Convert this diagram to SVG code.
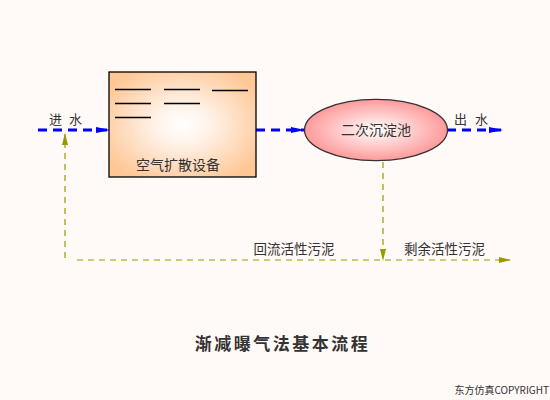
<svg xmlns="http://www.w3.org/2000/svg" width="550" height="400" viewBox="0 0 550 400">
<defs>
<radialGradient id="gBox" cx="0.5" cy="0.5" r="0.6">
<stop offset="0" stop-color="#FFFFFF"/>
<stop offset="0.3" stop-color="#FFF3EA"/>
<stop offset="1" stop-color="#FFC796"/>
</radialGradient>
<radialGradient id="gEll" cx="0.5" cy="0.5" r="0.5">
<stop offset="0" stop-color="#FFFFFF"/>
<stop offset="1" stop-color="#FF9A9A"/>
</radialGradient>
<marker id="aBlue" markerWidth="14" markerHeight="8" refX="13" refY="4" orient="auto" markerUnits="userSpaceOnUse">
<path d="M0,1 L14,4 L0,7 Z" fill="#0000FF"/>
</marker>
<marker id="aOlive" markerWidth="12" markerHeight="8" refX="11" refY="4" orient="auto" markerUnits="userSpaceOnUse">
<path d="M0,1 L12,4 L0,7 Z" fill="#999900"/>
</marker>
</defs>
<style>
.t{font-family:"Noto Sans CJK SC","Liberation Sans",sans-serif;fill:#333;}
.blue{stroke:#0000FF;stroke-width:3;stroke-dasharray:9,6;fill:none;}
.olive{stroke:#999900;stroke-width:1.2;stroke-dasharray:6,5;fill:none;}
.ln{stroke:#000;stroke-width:1.3;}
</style>
<rect width="550" height="400" fill="#FFF9F7"/>
<g id="connectors">
<line class="blue" x1="38" y1="130" x2="109" y2="130" marker-end="url(#aBlue)"/>
<line class="blue" x1="256" y1="130" x2="304" y2="130" marker-end="url(#aBlue)"/>
<line class="blue" x1="447" y1="130" x2="502" y2="130" marker-end="url(#aBlue)"/>
<line class="olive" x1="383" y1="162" x2="383" y2="260" marker-end="url(#aOlive)"/>
<line class="olive" x1="77" y1="260" x2="510" y2="260" marker-end="url(#aOlive)"/>
<line class="olive" x1="65" y1="258" x2="65" y2="134" marker-end="url(#aOlive)"/>
</g>
<g id="aeration">
<rect x="109" y="72" width="147" height="105" fill="url(#gBox)" stroke="#000" stroke-width="1.3"/>
<line class="ln" x1="115" y1="89.5" x2="151" y2="89.5"/>
<line class="ln" x1="164" y1="89.5" x2="200" y2="89.5"/>
<line class="ln" x1="212" y1="90.5" x2="248" y2="90.5"/>
<line class="ln" x1="115" y1="103.5" x2="151" y2="103.5"/>
<line class="ln" x1="164" y1="103.5" x2="200" y2="103.5"/>
<line class="ln" x1="115" y1="117.5" x2="151" y2="117.5"/>
<text class="t" x="178" y="170" font-size="14" text-anchor="middle">空气扩散设备</text>
</g>
<g id="clarifier">
<ellipse cx="376" cy="130" rx="71.5" ry="30.7" fill="url(#gEll)" stroke="#333" stroke-width="1.3"/>
<text class="t" x="376" y="135" font-size="14" text-anchor="middle">二次沉淀池</text>
</g>
<g id="labels">
<text class="t" y="124" font-size="13"><tspan x="49">进</tspan><tspan x="69">水</tspan></text>
<text class="t" y="124" font-size="13"><tspan x="454">出</tspan><tspan x="475">水</tspan></text>
<text class="t" x="294" y="254" font-size="13.5" text-anchor="middle">回流活性污泥</text>
<text class="t" x="444.5" y="254" font-size="13.5" text-anchor="middle">剩余活性污泥</text>
<text class="t" x="282.5" y="350" font-size="17" font-weight="bold" text-anchor="middle" letter-spacing="2.5" fill="#111">渐减曝气法基本流程</text>
<text class="t" x="549" y="394" font-size="10" text-anchor="end">东方仿真COPYRIGHT</text>
</g>
</svg>
